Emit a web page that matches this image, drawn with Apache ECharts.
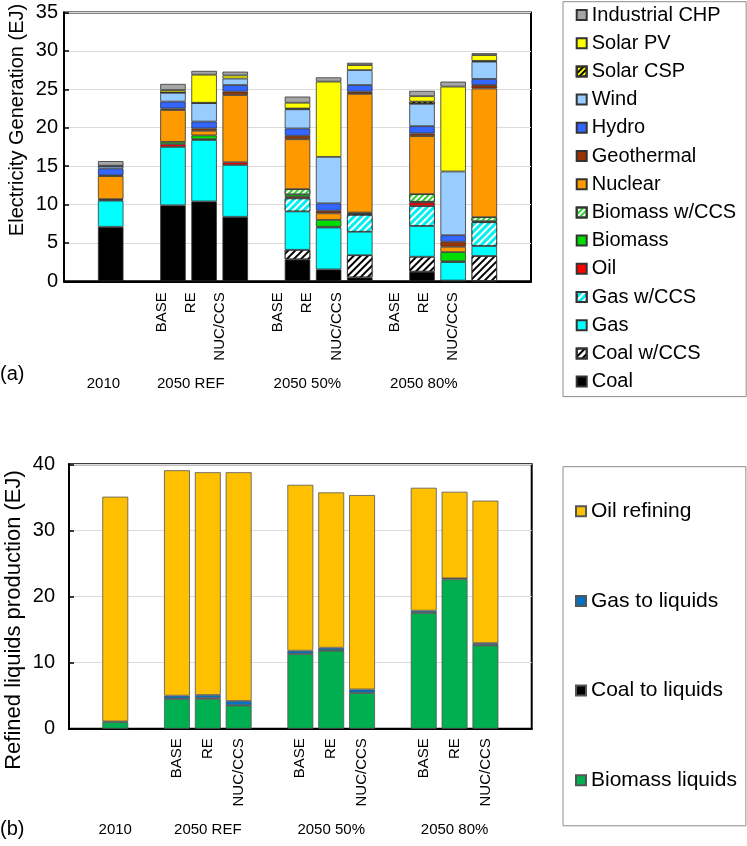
<!DOCTYPE html>
<html>
<head>
<meta charset="utf-8">
<script src="https://cdn.jsdelivr.net/npm/echarts@6/dist/echarts.min.js"></script>
<style>
  html, body { margin: 0; padding: 0; background: #fff; }
  #chart { width: 747px; height: 846px; }
</style>
</head>
<body>
<div id="chart"></div>
<script>
// ---- Categories ----
const groupLabels = ['2010', '2050 REF', '2050 50%', '2050 80%'];
const scenarioLabels = ['', 'BASE', 'RE', 'NUC/CCS', 'BASE', 'RE', 'NUC/CCS', 'BASE', 'RE', 'NUC/CCS'];
// bar order: 2010, REF BASE, REF RE, REF NUC/CCS, 50% BASE, 50% RE, 50% NUC/CCS, 80% BASE, 80% RE, 80% NUC/CCS

// ---- (a) Electricity generation (EJ) ----
const coal        = [7.1, 9.9, 10.4, 8.4, 2.85, 1.55, 0.5, 1.25, 0.1, 0.05];
const coalCCS     = [0, 0, 0, 0, 1.25, 0, 2.9, 1.95, 0, 3.25];
const gas         = [3.4, 7.6, 8.0, 6.75, 5.0, 5.45, 3.05, 4.0, 2.4, 1.3];
const gasCCS      = [0, 0, 0, 0, 1.7, 0, 2.2, 2.6, 0, 3.1];
const oil         = [0.1, 0.35, 0.1, 0.35, 0.2, 0.1, 0.1, 0.45, 0.1, 0.1];
const biomass     = [0.1, 0.3, 0.5, 0, 0.3, 0.9, 0, 0.1, 1.2, 0];
const biomassCCS  = [0, 0, 0, 0, 0.7, 0, 0.2, 1.0, 0, 0.55];
const nuclear     = [3.0, 4.15, 0.6, 8.75, 6.5, 0.85, 15.45, 7.55, 0.7, 16.75];
const geothermal  = [0.1, 0.2, 0.3, 0.45, 0.45, 0.35, 0.3, 0.35, 0.65, 0.45];
const hydro       = [0.9, 0.9, 0.9, 0.85, 0.95, 0.95, 0.85, 0.95, 0.85, 0.8];
const wind        = [0.3, 1.15, 2.4, 0.85, 2.5, 6.05, 1.95, 2.9, 8.3, 2.25];
const solarCSP    = [0, 0.05, 0.05, 0, 0.1, 0, 0, 0.3, 0, 0.1];
const solarPV     = [0.05, 0.3, 3.65, 0.4, 0.75, 9.8, 0.65, 0.7, 11.05, 0.75];
const industrialCHP = [0.6, 0.8, 0.5, 0.5, 0.8, 0.55, 0.3, 0.7, 0.65, 0.25];

// ---- (b) Refined liquids production (EJ) ----
const biomassLiquids = [1.0, 4.5, 4.5, 3.5, 11.3, 11.8, 5.4, 17.5, 22.6, 12.6];
const coalToLiquids  = [0, 0.05, 0.15, 0.05, 0.05, 0.05, 0.05, 0.05, 0.1, 0.05];
const gasToLiquids   = [0.1, 0.45, 0.45, 0.65, 0.45, 0.4, 0.5, 0.3, 0.05, 0.3];
const oilRefining    = [34.0, 34.1, 33.7, 34.6, 25.1, 23.5, 29.4, 18.6, 13.1, 21.55];

// ---- axis ticks ----
const yTicksA = { min: 0, max: 35, interval: 5 };
const yTicksB = { min: 0, max: 40, interval: 10 };

// ---- layout helpers: bars sit in slots with blank slots between groups ----
const barSlots = [1, 3, 4, 5, 7, 8, 9, 11, 12, 13];
const groupSlots = [1, 4, 8, 12];
const NSLOT = 15;
function toSlots(arr) {
  const out = new Array(NSLOT).fill(null);
  arr.forEach((v, i) => { out[barSlots[i]] = (v === 0 ? null : v); });
  return out;
}
const blankCats = new Array(NSLOT).fill('');
const scenCats = blankCats.slice(); barSlots.forEach((s, i) => scenCats[s] = scenarioLabels[i]);
const groupCats = blankCats.slice(); groupSlots.forEach((s, i) => groupCats[s] = groupLabels[i]);

const FONT = "'Liberation Sans', Arial, sans-serif";
const stripe = (color, on, off) => ({ symbol: 'rect', symbolSize: 1, color: color, dashArrayX: [1, 0], dashArrayY: [on, off], rotation: -Math.PI / 4 });

const elecSeries = [
  { name: 'Coal', data: coal, color: '#000000' },
  { name: 'Coal w/CCS', data: coalCCS, color: '#ffffff', decal: stripe('#000000', 2, 2.2) },
  { name: 'Gas', data: gas, color: '#00ffff' },
  { name: 'Gas w/CCS', data: gasCCS, color: '#00f0f0', decal: stripe('#ffffff', 1.5, 2.5) },
  { name: 'Oil', data: oil, color: '#ff0000' },
  { name: 'Biomass', data: biomass, color: '#00dd00' },
  { name: 'Biomass w/CCS', data: biomassCCS, color: '#ffffff', decal: stripe('#33cc33', 2, 2) },
  { name: 'Nuclear', data: nuclear, color: '#ff9900' },
  { name: 'Geothermal', data: geothermal, color: '#993300' },
  { name: 'Hydro', data: hydro, color: '#3366ff' },
  { name: 'Wind', data: wind, color: '#99ccff' },
  { name: 'Solar CSP', data: solarCSP, color: '#ffff00', decal: stripe('#000000', 1.5, 2) },
  { name: 'Solar PV', data: solarPV, color: '#ffff00' },
  { name: 'Industrial CHP', data: industrialCHP, color: '#a6a6a6' }
];
const liqSeries = [
  { name: 'Biomass liquids', data: biomassLiquids, color: '#00b050' },
  { name: 'Coal to liquids', data: coalToLiquids, color: '#000000' },
  { name: 'Gas to liquids', data: gasToLiquids, color: '#0070c0' },
  { name: 'Oil refining', data: oilRefining, color: '#ffc000' }
];

const series = [];
elecSeries.forEach(s => {
  const it = { color: s.color, borderColor: '#333', borderWidth: 0.8 };
  if (s.decal) it.decal = s.decal;
  series.push({ type: 'bar', name: s.name, stack: 'elec', xAxisIndex: 0, yAxisIndex: 0,
    barWidth: '82%', data: toSlots(s.data), itemStyle: it, emphasis: { disabled: true } });
});
liqSeries.forEach(s => {
  series.push({ type: 'bar', name: s.name, stack: 'liq', xAxisIndex: 3, yAxisIndex: 2,
    barWidth: '84%', data: toSlots(s.data),
    itemStyle: { color: s.color, borderColor: '#555', borderWidth: 0.8 }, emphasis: { disabled: true } });
});

const valueAxis = (gridIndex, ticks, margin) => Object.assign({
  type: 'value', gridIndex: gridIndex,
  axisLine: { show: true, lineStyle: { color: '#000', width: 2 } },
  axisTick: { show: true, inside: true, length: 5, lineStyle: { color: '#000', width: 1.5 } },
  axisLabel: { color: '#000', fontSize: 20, fontFamily: FONT, margin: margin },
  splitLine: { show: true, lineStyle: { color: '#dcdcdc', width: 1 } }
}, ticks);

const catAxis = (gridIndex, data, opts) => Object.assign({
  type: 'category', gridIndex: gridIndex, data: data, position: 'bottom',
  axisLine: { show: false }, axisTick: { show: false }, splitLine: { show: false }
}, opts);

const labelStyle = { color: '#000', fontFamily: FONT, fontSize: 15, interval: 0 };

const option = {
  backgroundColor: '#fff',
  animation: false,
  grid: [
    { left: 64, top: 12.5, width: 467, height: 268.8, show: true, borderColor: '#000', borderWidth: 2, backgroundColor: 'transparent' },
    { left: 59.7, top: 12.5, width: 437, height: 268.8, show: false },
    { left: 69, top: 464.3, width: 462.7, height: 264.4, show: true, borderColor: '#000', borderWidth: 2, backgroundColor: 'transparent' }
  ],
  xAxis: [
    catAxis(0, blankCats, { axisLine: { show: true, lineStyle: { color: '#000', width: 2 } }, axisLabel: { show: false } }),
    catAxis(1, scenCats, { axisLabel: Object.assign({}, labelStyle, { rotate: 90, margin: 11 }) }),
    catAxis(1, groupCats, { axisLabel: Object.assign({}, labelStyle, { margin: 95 }) }),
    catAxis(2, scenCats, { axisLine: { show: true, lineStyle: { color: '#000', width: 2 } }, axisLabel: Object.assign({}, labelStyle, { rotate: 90, margin: 9.5 }) }),
    catAxis(2, groupCats, { axisLabel: Object.assign({}, labelStyle, { margin: 94 }) })
  ],
  yAxis: [
    valueAxis(0, yTicksA, 6),
    { type: 'value', gridIndex: 1, show: false, min: 0, max: 35 },
    valueAxis(2, yTicksB, 14)
  ],
  legend: [
    {
      orient: 'vertical', left: 563, top: 1.7,
      data: elecSeries.map(s => s.name).reverse(),
      icon: 'rect', itemWidth: 10, itemHeight: 10, itemGap: 8.2,
      padding: [3.3, 10, 5, 12.7],
      borderColor: '#8c8c8c', borderWidth: 1,
      textStyle: { color: '#000', fontSize: 20, lineHeight: 20, fontFamily: FONT },
      selectedMode: false
    },
    {
      orient: 'vertical', left: 563, top: 466.7,
      data: liqSeries.map(s => s.name).reverse(),
      icon: 'rect', itemWidth: 10, itemHeight: 10, itemGap: 68.7,
      padding: [34, 9, 35, 12],
      borderColor: '#8c8c8c', borderWidth: 1,
      textStyle: { color: '#000', fontSize: 21, lineHeight: 20, fontFamily: FONT },
      selectedMode: false
    }
  ],
  graphic: [
    { type: 'text', x: 17, y: 120, rotation: Math.PI / 2,
      style: { text: 'Electricity Generation (EJ)', fontSize: 20, fontFamily: FONT, fill: '#000', align: 'center', verticalAlign: 'middle' } },
    { type: 'text', x: 14, y: 620, rotation: Math.PI / 2,
      style: { text: 'Refined liquids production (EJ)', fontSize: 22, fontFamily: FONT, fill: '#000', align: 'center', verticalAlign: 'middle' } },
    { type: 'text', x: 0, y: 374,
      style: { text: '(a)', fontSize: 20, fontFamily: FONT, fill: '#000', align: 'left', verticalAlign: 'middle' } },
    { type: 'text', x: 0, y: 829,
      style: { text: '(b)', fontSize: 20, fontFamily: FONT, fill: '#000', align: 'left', verticalAlign: 'middle' } }
  ],
  series: series
};

const chart = echarts.init(document.getElementById('chart'), null, { renderer: 'canvas' });
chart.setOption(option);
</script>
</body>
</html>
